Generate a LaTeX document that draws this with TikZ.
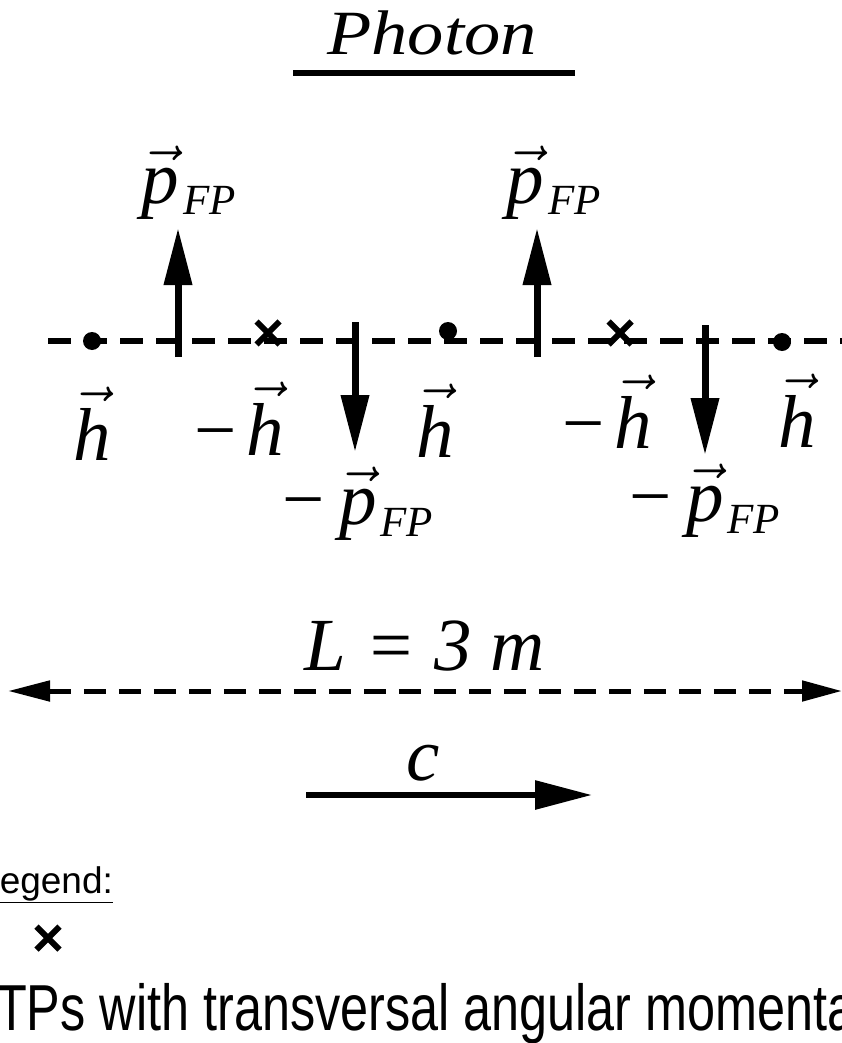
\documentclass[tikz,border=0pt]{standalone}
\usepackage{fix-cm}
\usepackage{fontspec}
\setmainfont{Liberation Serif}
\newfontfamily\legendfont{Liberation Sans}
\usetikzlibrary{arrows.meta, shapes.misc}

\newcommand{\bigfont}{\fontsize{75}{80}\selectfont}
\newcommand{\subfont}{\fontsize{43}{44}\selectfont\itshape}
\newcommand{\vecsym}[1]{$\vec{\hbox{\itshape #1}}$}
\newcommand{\pFP}{\vecsym{p}\hspace{4pt}\raisebox{-12pt}{\subfont FP}}
\newcommand{\mns}{\textminus}

\begin{document}
\begin{tikzpicture}[x=1pt, y=-1pt]

        % 1. Frame of the picture (pixel coordinates, y downwards)
        \useasboundingbox (0,0) rectangle (842,1043);
        \clip (0,0) rectangle (842,1043);

        \tikzset{
            sym/.style={font=\bigfont, inner sep=0pt, anchor=base},
            fpdot/.style={fill=black, circle, minimum size=18pt, inner sep=0pt},
            fpcross/.style={cross out, draw=black, line width=6pt, minimum size=17pt, inner sep=0pt},
            momentum/.style={line width=7pt, -{Triangle[length=57pt, width=27pt]}},
            axis/.style={line width=6pt, dash pattern=on 23pt off 13pt}
        }

        % 2. Title
        \node[inner sep=0pt, anchor=base] (title) at (432,55)
            {\scalebox{1.15}[1]{\fontsize{63}{66}\selectfont\itshape Photon}};
        \coordinate (ulL) at (293,73);
        \coordinate (ulR) at (575,73);
        \draw[line width=6pt] (ulL) -- (ulR);

        % 3. The photon axis with the FPs on it
        \pgfmathsetmacro{\yaxis}{341}
        \coordinate (axL) at (48,\yaxis);
        \coordinate (axR) at (842,\yaxis);
        \draw[axis] (axL) -- (axR);

        \node[fpdot] (dotA) at (92,341) {};
        \node[fpdot] (dotB) at (448,331) {};
        \node[fpdot] (dotC) at (782,342) {};
        \node[fpcross] (crossA) at (268,333) {};
        \node[fpcross] (crossB) at (620,333) {};

        % 4. Momentum arrows (up and down)
        \coordinate (upAs) at (178,357);  \coordinate (upAe) at (178,228);
        \coordinate (upBs) at (537,357);  \coordinate (upBe) at (537,228);
        \coordinate (dnAs) at (355,322);  \coordinate (dnAe) at (355,452);
        \coordinate (dnBs) at (705,325);  \coordinate (dnBe) at (705,455);
        \draw[momentum] (upAs) -- (upAe);
        \draw[momentum] (upBs) -- (upBe);
        \draw[momentum] (dnAs) -- (dnAe);
        \draw[momentum] (dnBs) -- (dnBe);

        % 5. Labels of the momenta and angular momenta
        \node[sym] (pA) at (189,203) {\pFP};
        \node[sym] (pB) at (554,203) {\pFP};
        \node[sym] (mpA) at (358,524) {\mns\hspace{14pt}\pFP};
        \node[sym] (mpB) at (705,521) {\mns\hspace{14pt}\pFP};

        \node[sym] (hA) at (92,460) {\vecsym{h}};
        \node[sym] (mhA) at (239,455) {\mns\hspace{10pt}\vecsym{h}};
        \node[sym] (hB) at (435,457) {\vecsym{h}};
        \node[sym] (mhB) at (607,448) {\mns\hspace{10pt}\vecsym{h}};
        \node[sym] (hC) at (797,447) {\vecsym{h}};

        % 6. Length of the photon
        \node[sym] (len) at (425,670) {\itshape L = 3 m};
        \coordinate (lenL) at (8,691);
        \coordinate (lenR) at (842,691);
        \draw[line width=5pt, dash pattern=on 22pt off 13pt,
              {Triangle[length=42pt, width=20pt]}-{Triangle[length=40pt, width=20pt]}] (lenL) -- (lenR);

        % 7. Speed of propagation
        \node[sym] (speed) at (423,780) {\itshape c};
        \coordinate (cL) at (306,795);
        \coordinate (cR) at (592,795);
        \draw[line width=6pt, -{Triangle[length=57pt, width=28pt]}] (cL) -- (cR);

        % 8. Legend (cut at the left edge)
        \node[inner sep=0pt, anchor=base west] (legend) at (-21,893)
            {\fontsize{37}{40}\selectfont\legendfont\underline{Legend:}};
        \node[fpcross] (crossL) at (48,938) {};
        \node[inner sep=0pt, anchor=base west] (legtext) at (-4,1030)
            {\scalebox{0.775}[1]{\fontsize{65}{70}\selectfont\legendfont TPs with transversal angular momenta}};

    \end{tikzpicture}
\end{document}
